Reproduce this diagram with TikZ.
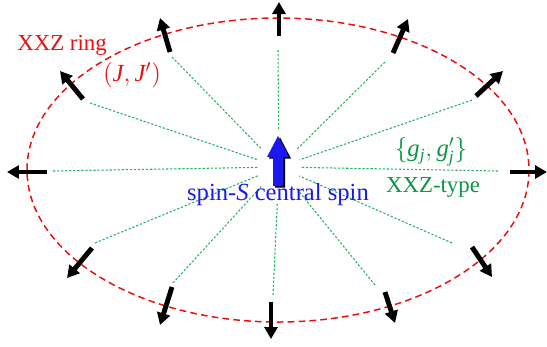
\documentclass[tikz,border=0pt]{standalone}
\usepackage{fontspec}
\setmainfont{Liberation Serif}
\usepackage{tikz}
\usetikzlibrary{arrows.meta, shapes.geometric}

\definecolor{ringred}{RGB}{235,15,15}
\definecolor{linkgreen}{RGB}{40,175,100}
\definecolor{textgreen}{RGB}{10,150,70}
\definecolor{spinblue}{RGB}{25,25,240}

\tikzset{
  ring/.style={ringred, line width=0.85pt, dash pattern=on 3.8pt off 2.4pt},
  coupling/.style={linkgreen, line width=0.6pt, dash pattern=on 1.3pt off 1pt},
  spinarrow/.style={line width=2.8pt, -{Triangle[length=0.24cm, width=0.26cm]}},
  lbl/.style={font=\fontsize{13}{15}\selectfont},
  mathlbl/.style={font=\fontsize{14}{16}\selectfont}
}

\begin{document}
\begin{tikzpicture}[x=0.02cm, y=-0.02cm]
\useasboundingbox (0,0) rectangle (547,346);
% XXZ ring
\draw[ring] (278,170) ellipse [x radius=251, y radius=152];
% core round the central spin (couplings stop at its border)
\node[ellipse, minimum width=0.84cm, minimum height=1.48cm, inner sep=0pt, outer sep=0pt] (core) at (279,167) {};
% ring spins: tail, tip, far end of the coupling line
\foreach \k/\tx/\ty/\hx/\hy/\gx/\gy in {
   0/510/172/547/172/498/171,
  30/476/96/503/71/472/100,
  60/393/53/408/19/385/62,
  90/279/36/279/2/278/50,
 120/170/52/160/18/172/57,
 150/83/99/60/71/90/103,
 180/47/172/7/172/53/171,
 210/92/248/67/278/95/243,
 240/172/287/160/325/173/283,
 270/271/302/271/339/273/295,
 300/385/292/395/323/375/285,
 330/472/247/492/277/452/243}{
  \coordinate (t\k) at (\tx,\ty);
  \coordinate (h\k) at (\hx,\hy);
  \coordinate (g\k) at (\gx,\gy);
  \draw[coupling] (g\k) -- (core);
  \draw[spinarrow] (t\k) -- (h\k);
}
% central spin (blue block arrow with dark edge)
\fill[black, shift={(2,1.5)}] (273,186) -- (273,157) -- (267,157) -- (278,136)
   -- (289,157) -- (283,157) -- (283,186) -- cycle;
\fill[spinblue] (273,186) -- (273,157) -- (267,157) -- (278,136)
   -- (289,157) -- (283,157) -- (283,186) -- cycle;
% labels
\node[lbl, ringred] (ringlbl) at (62,45) {XXZ ring};
\node[mathlbl, ringred] (jlbl) at (132,75) {$(\mathit{J},\mathit{J}')$};
\node[mathlbl, textgreen] (glbl) at (431,152) {$\{\mathit{g}_{\mathit{j}},\mathit{g}'_{\mathit{j}}\}$};
\node[lbl, textgreen] (typelbl) at (433,187) {XXZ-type};
\node[font=\fontsize{14}{16}\selectfont, spinblue] (spinlbl) at (278,195) {spin-\textit{S} central spin};
\end{tikzpicture}
\end{document}
